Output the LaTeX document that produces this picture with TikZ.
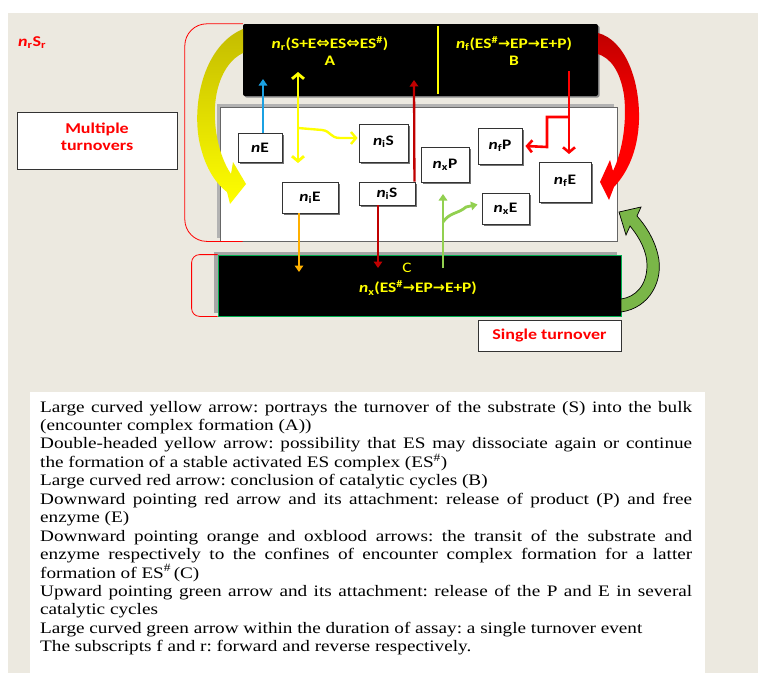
\documentclass[tikz,border=0pt]{standalone}
\usepackage{fontspec}
\usetikzlibrary{arrows.meta,shadows}
\setmainfont{Carlito}[FakeStretch=1.2]
\newfontfamily\capfont{Liberation Serif}[FakeStretch=1.2]
\newfontfamily\arrfont{DejaVu Sans}
\newcommand\myRA{{\arrfont\bfseries →}}
\newcommand\myLRA{{\arrfont\bfseries\fontsize{16}{17}\selectfont ⇔}}
\definecolor{bgbeige}{RGB}{236,233,224}
\definecolor{txtyellow}{RGB}{255,255,0}
\definecolor{skyblue}{RGB}{27,161,226}
\definecolor{oxblood}{RGB}{192,0,0}
\definecolor{orangey}{RGB}{255,176,0}
\definecolor{lgreen}{RGB}{146,208,80}
\definecolor{bgreen}{RGB}{0,176,80}
\definecolor{olivey}{RGB}{196,188,0}
\definecolor{bigreen}{RGB}{122,182,72}
\begin{document}
\begin{tikzpicture}[x=1pt,y=-1pt,
  lbl/.style={font=\bfseries\fontsize{14.5}{17}\selectfont},
  smallbox/.style={draw=black!80, line width=0.9pt, fill=white, lbl, inner sep=0pt,
    drop shadow={shadow xshift=2pt, shadow yshift=-2pt, fill=black!55, opacity=1}},
  blackbox/.style={fill=black, inner sep=0pt},
  whitebox/.style={draw=black!80, line width=0.9pt, fill=white, inner sep=0pt},
  redtxt/.style={text=red, font=\bfseries\fontsize{15}{17}\selectfont},
  bracket/.style={draw=red, line width=0.8pt},
  thinarr/.style={line width=2.8pt, -{Triangle[width=8.5pt,length=6.5pt]}},
  barbarr/.style={line width=2.6pt, -{Straight Barb[width=12pt,length=5pt]}},
  dblarr/.style={line width=2.8pt, {Straight Barb[width=12pt,length=5pt]}-{Straight Barb[width=12pt,length=5pt]}}
]
\path[use as bounding box] (0,0) rectangle (758,675);
\fill[white] (0,0) rectangle (758,675);
\fill[bgbeige] (8,13) rectangle (758,673);

% n_r S_r
\node[redtxt, anchor=base west, inner sep=0pt] (nrsr) at (18,46) {\textit{n}\textsubscript{r}S\textsubscript{r}};

% multiple turnovers
\node[whitebox, minimum width=160, minimum height=57] (multi) at (97,140.5) {};
\node[redtxt, align=center, inner sep=0pt] (multiTxt) at (97,136.5) {Multiple\\turnovers};

% top black box A/B
\node[blackbox, rounded corners=2pt, minimum width=355, minimum height=72,
  drop shadow={shadow xshift=1.5pt, shadow yshift=-1.5pt, fill=black!45, opacity=1}] (boxAB) at (420.5,60) {};
\coordinate (divT) at (438,26);
\coordinate (divB) at (438,94);
\draw[txtyellow, line width=2.5pt] (divT) -- (divB);
\node[lbl, text=txtyellow, align=center] (txtA) at (330,51) {\textit{n}\textsubscript{r}(S+E\myLRA ES\myLRA ES\textsuperscript{\#})\\A};
\node[lbl, text=txtyellow, align=center] (txtB) at (514,51) {\textit{n}\textsubscript{f}(ES\textsuperscript{\#}\myRA EP\myRA E+P)\\B};

% middle white box
\node[draw=black!60, line width=0.8pt, fill=white, minimum width=397, minimum height=134, inner sep=0pt,
  drop shadow={shadow xshift=-3pt, shadow yshift=3pt, fill=black!30, opacity=1}] (mid) at (418.5,174) {};

% bottom black box C
\node[blackbox, draw=bgreen, line width=0.8pt, minimum width=403, minimum height=61,
  drop shadow={shadow xshift=-4pt, shadow yshift=3pt, fill=black!35, opacity=1}] (boxC) at (419.5,285.5) {};
\node[font=\fontsize{14.5}{17}\selectfont, text=txtyellow] (txtC1) at (407,268) {C};
\node[lbl, text=txtyellow] (txtC2) at (418,288) {\textit{n}\textsubscript{x}(ES\textsuperscript{\#}\myRA EP\myRA E+P)};

% single turnover
\node[whitebox, minimum width=143, minimum height=31, redtxt] (single) at (549.5,335.5) {Single turnover};

% small boxes
\node[smallbox, minimum width=44, minimum height=29] (nE) at (260,147.5) {\textit{n}E};
\node[smallbox, minimum width=49, minimum height=38] (niSa) at (383.5,143) {\raisebox{4pt}{\textit{n}\textsubscript{i}S}\hspace{4pt}};
\node[smallbox, minimum width=56, minimum height=31] (niE) at (310,197.5) {\textit{n}\textsubscript{i}E\hspace{10pt}};
\node[smallbox, minimum width=56, minimum height=23] (niSb) at (387,193.5) {\textit{n}\textsubscript{i}S\hspace{10pt}};
\node[smallbox, minimum width=48, minimum height=35] (nxP) at (445,164.5) {\textit{n}\textsubscript{x}P};
\node[smallbox, minimum width=44, minimum height=36] (nfP) at (500,146) {\textit{n}\textsubscript{f}P};
\node[smallbox, minimum width=52, minimum height=40] (nfE) at (565,182) {\raisebox{4pt}{\textit{n}\textsubscript{f}E}\hspace{6pt}};
\node[smallbox, minimum width=47, minimum height=31] (nxE) at (505.5,208.5) {\textit{n}\textsubscript{x}E};

% red brackets
\draw[bracket, rounded corners=22pt] (boxAB.north west) -- ++(-58,0) |- ([xshift=23pt]mid.south west);
\draw[bracket, rounded corners=8pt] (boxC.north west) -- ++(-26,0) |- (boxC.south west);

% big yellow curved arrow
\shade[top color=olivey, bottom color=txtyellow]
  (243,29) .. controls (205,45) and (192,100) .. (199,140)
  .. controls (204,165) and (214,182) .. (227,192)
  -- (230,204) -- (246,184) -- (233,162) -- (231,174)
  .. controls (218,155) and (212,122) .. (216,97)
  .. controls (220,72) and (232,58) .. (243,53) -- cycle;

% big red curved arrow
\shade[top color=oxblood, bottom color=red, middle color=red]
  (598,33) .. controls (625,40) and (640,80) .. (639,120)
  .. controls (638,150) and (628,172) .. (614,187)
  -- (609,200) -- (600,182) -- (610,160) -- (613,171)
  .. controls (623,150) and (627,120) .. (624,95)
  .. controls (620,70) and (610,58) .. (598,54) -- cycle;

% big green curved arrow
\filldraw[fill=bigreen, draw=black, line width=0.7pt]
  (621,312) .. controls (650,308) and (664,280) .. (658,255)
  .. controls (654,238) and (645,225) .. (637,216)
  -- (641,207) -- (619,212) -- (626,235) -- (630,226)
  .. controls (640,238) and (647,252) .. (647,265)
  .. controls (647,285) and (636,297) .. (621,299) -- cycle;

% thin arrows
\coordinate (blueTip) at (263,79);
\draw[thinarr, skyblue] ([xshift=3pt]nE.north) -- (blueTip);

\coordinate (yTop) at (298,72);
\coordinate (yBot) at (298,163);
\coordinate (yFork) at (298,128);
\draw[dblarr, txtyellow] (yTop) -- (yBot);
\draw[barbarr, txtyellow, line width=2.4pt] (yFork) -- (322,130) .. controls (331,131) and (330,138) .. (340,138) -- ([yshift=5pt,xshift=-1pt]niSa.west);

\coordinate (drTip) at (414,80);
\draw[thinarr, oxblood, line width=2.3pt] ([xshift=-1pt]niSb.north east) -- (drTip);

\coordinate (rTop) at (569,71);
\coordinate (rTip) at (569,154);
\coordinate (rFork) at (569,117);
\draw[barbarr, red, line width=2.6pt] (rTop) -- (rTip);
\draw[barbarr, red, line width=2.6pt] (rFork) -- (547,117) -- (547,147) -- ([xshift=3pt]nfP.east);

\coordinate (oTip) at (299,272);
\draw[thinarr, orangey] ([xshift=-11pt]niE.south) -- (oTip);

\coordinate (dr2Tip) at (378,268);
\draw[thinarr, oxblood, line width=2.3pt] ([xshift=-9pt]niSb.south) -- (dr2Tip);

\coordinate (gBot) at (443,268);
\coordinate (gTip) at (443,194);
\coordinate (gFork) at (443,222);
\draw[thinarr, lgreen] (gBot) -- (gTip);
\draw[thinarr, lgreen] (gFork) .. controls (450,212) and (458,214) .. (466,207) -- ([yshift=4pt,xshift=-4pt]nxE.west);

% caption
\fill[white] (30,392) rectangle (705,673);
\node[anchor=base west, inner sep=0pt, text width=652pt, align=justify,
  font=\capfont\fontsize{16}{18.45}\selectfont\frenchspacing\setlength{\parindent}{0pt}\setlength{\parskip}{0pt}] (caption) at (40,412) {%
Large curved yellow arrow: portrays the turnover of the substrate (S) into the bulk\linebreak (encounter complex formation (A))\par
Double-headed yellow arrow: possibility that ES may dissociate again or continue\linebreak the formation of a stable activated ES complex (ES\textsuperscript{\#})\par
Large curved red arrow: conclusion of catalytic cycles (B)\par
Downward pointing red arrow and its attachment: release of product (P) and free\linebreak enzyme (E)\par
Downward pointing orange and oxblood arrows: the transit of the substrate and\linebreak enzyme respectively to the confines of encounter complex formation for a latter\linebreak formation of ES\textsuperscript{\#}\,(C)\par
Upward pointing green arrow and its attachment: release of the P and E in several\linebreak catalytic cycles\par
Large curved green arrow within the duration of assay: a single turnover event\par
The subscripts f and r: forward and reverse respectively.};
\end{tikzpicture}
\end{document}
